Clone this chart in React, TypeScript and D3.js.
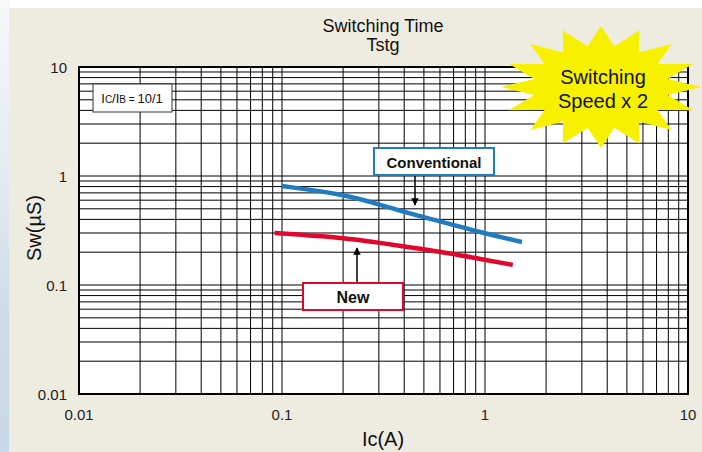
import React from "react";
import * as d3 from "d3";

const W = 702;
const H = 452;

// Data
const convIc = [0.1, 0.2, 0.3, 0.44, 0.65, 0.94, 1.52];
const convSw = [0.81, 0.68, 0.55, 0.445, 0.37, 0.306, 0.248];
const newIc = [0.092, 0.2, 0.3, 0.44, 0.65, 0.94, 1.37];
const newSw = [0.3, 0.272, 0.245, 0.22, 0.197, 0.174, 0.153];

const xTicks = [0.01, 0.1, 1, 10];
const yTicks = [0.01, 0.1, 1, 10];
const xTickLabels = ["0.01", "0.1", "1", "10"];
const yTickLabels = ["0.01", "0.1", "1", "10"];

const titleLines = ["Switching Time", "Tstg"];
const starLines = ["Switching", "Speed x 2"];

const FONT = "'Liberation Sans', Arial, sans-serif";

function minorValues(lo: number, hi: number): number[] {
  const out: number[] = [];
  for (let d = Math.log10(lo); d < Math.log10(hi); d++) {
    for (let k = 1; k <= 9; k++) out.push(k * Math.pow(10, d));
  }
  out.push(hi);
  return out;
}

function starPath(cx: number, cy: number, rx: number, ry: number, ratio: number, n: number) {
  const pts: [number, number][] = [];
  for (let i = 0; i < n * 2; i++) {
    const a = -Math.PI / 2 + (i * Math.PI) / n;
    const r = i % 2 === 0 ? 1 : ratio;
    pts.push([cx + Math.cos(a) * rx * r, cy + Math.sin(a) * ry * r]);
  }
  return "M" + pts.map((p) => p[0].toFixed(1) + "," + p[1].toFixed(1)).join("L") + "Z";
}

export default function App() {
  const left = 79, right = 688, top = 67, bottom = 394;
  const x = d3.scaleLog().domain([0.01, 10]).range([left, right]);
  const y = d3.scaleLog().domain([0.01, 10]).range([bottom, top]);
  const grid = minorValues(0.01, 10);

  const line = d3
    .line<[number, number]>()
    .x((d) => x(d[0]))
    .y((d) => y(d[1]))
    .curve(d3.curveBasis);

  const convPts = convIc.map((v, i) => [v, convSw[i]] as [number, number]);
  const newPts = newIc.map((v, i) => [v, newSw[i]] as [number, number]);

  const blue = "#1f7cc2";
  const red = "#e2062c";

  return (
    <svg width={W} height={H} style={{ position: "absolute", left: 0, top: 0 }} fontFamily={FONT}>
      <defs>
        <linearGradient id="side" x1="0" y1="0" x2="0" y2="1">
          <stop offset="0" stopColor="#f7f8fa" />
          <stop offset="0.35" stopColor="#e6ecf2" />
          <stop offset="0.7" stopColor="#cfdbe8" />
          <stop offset="1" stopColor="#c9d8e8" />
        </linearGradient>
        <marker id="ah" viewBox="0 0 10 10" refX="9" refY="5" markerWidth="5" markerHeight="5" orient="auto">
          <path d="M0,0L10,5L0,10Z" fill="#000" />
        </marker>
      </defs>
      <rect x={0} y={0} width={W} height={H} fill="#ffffff" />
      <rect x={0} y={0} width={10} height={H} fill="url(#side)" />
      <rect x={9} y={8} width={W - 9} height={H - 8} fill="#eeece1" />

      {/* title */}
      <text x={383} y={32} textAnchor="middle" fontSize={18} fill="#111">{titleLines[0]}</text>
      <text x={383} y={51} textAnchor="middle" fontSize={18} fill="#111">{titleLines[1]}</text>

      {/* plot area */}
      <rect x={left} y={top} width={right - left} height={bottom - top} fill="#fff" />
      {grid.map((v, i) => (
        <line key={"gx" + i} x1={x(v)} x2={x(v)} y1={top} y2={bottom} stroke="#000" strokeWidth={1} />
      ))}
      {grid.map((v, i) => (
        <line key={"gy" + i} x1={left} x2={right} y1={y(v)} y2={y(v)} stroke="#000" strokeWidth={1} />
      ))}
      <rect x={left} y={top} width={right - left} height={bottom - top} fill="none" stroke="#000" strokeWidth={2} />

      {/* tick labels */}
      {xTicks.map((v, i) => (
        <text key={"xt" + i} x={x(v)} y={420} textAnchor="middle" fontSize={15} fill="#222">{xTickLabels[i]}</text>
      ))}
      {yTicks.map((v, i) => (
        <text key={"yt" + i} x={67} y={y(v) + 6} textAnchor="end" fontSize={15} fill="#222">{yTickLabels[i]}</text>
      ))}
      <text x={383} y={446} textAnchor="middle" fontSize={20} fill="#111">Ic(A)</text>
      <text transform="translate(41,228) rotate(-90)" textAnchor="middle" fontSize={20} fill="#111">Sw(µS)</text>

      {/* Ic/IB box */}
      <rect x={93} y={84} width={79} height={28} fill="#fff" stroke="#333" strokeWidth={1} />
      <text x={132} y={103} textAnchor="middle" fontSize={13} fill="#111">
        I<tspan fontSize={10}>C</tspan>/I<tspan fontSize={10}>B = </tspan>10/1
      </text>

      {/* curves */}
      <path d={line(convPts) || ""} fill="none" stroke={blue} strokeWidth={4.5} />
      <path d={line(newPts) || ""} fill="none" stroke={red} strokeWidth={4.5} />

      {/* Conventional annotation */}
      <rect x={374} y={148} width={120} height={27} fill="#fff" stroke={blue} strokeWidth={2} />
      <text x={434} y={168} textAnchor="middle" fontSize={15} fontWeight="bold" fill="#111">Conventional</text>
      <line x1={415} y1={176} x2={415} y2={205} stroke="#000" strokeWidth={1.5} markerEnd="url(#ah)" />

      {/* New annotation */}
      <rect x={303} y={283} width={100} height={27} fill="#fff" stroke={red} strokeWidth={2} />
      <text x={353} y={303} textAnchor="middle" fontSize={16} fontWeight="bold" fill="#111">New</text>
      <line x1={357} y1={282} x2={357} y2={248} stroke="#000" strokeWidth={1.5} markerEnd="url(#ah)" />

      {/* star */}
      <path d={starPath(601, 87, 100, 61, 0.68, 16)} fill="#f7f100" />
      <text x={603} y={84} textAnchor="middle" fontSize={20} fill="#111">{starLines[0]}</text>
      <text x={603} y={108} textAnchor="middle" fontSize={20} fill="#111">{starLines[1]}</text>
    </svg>
  );
}
